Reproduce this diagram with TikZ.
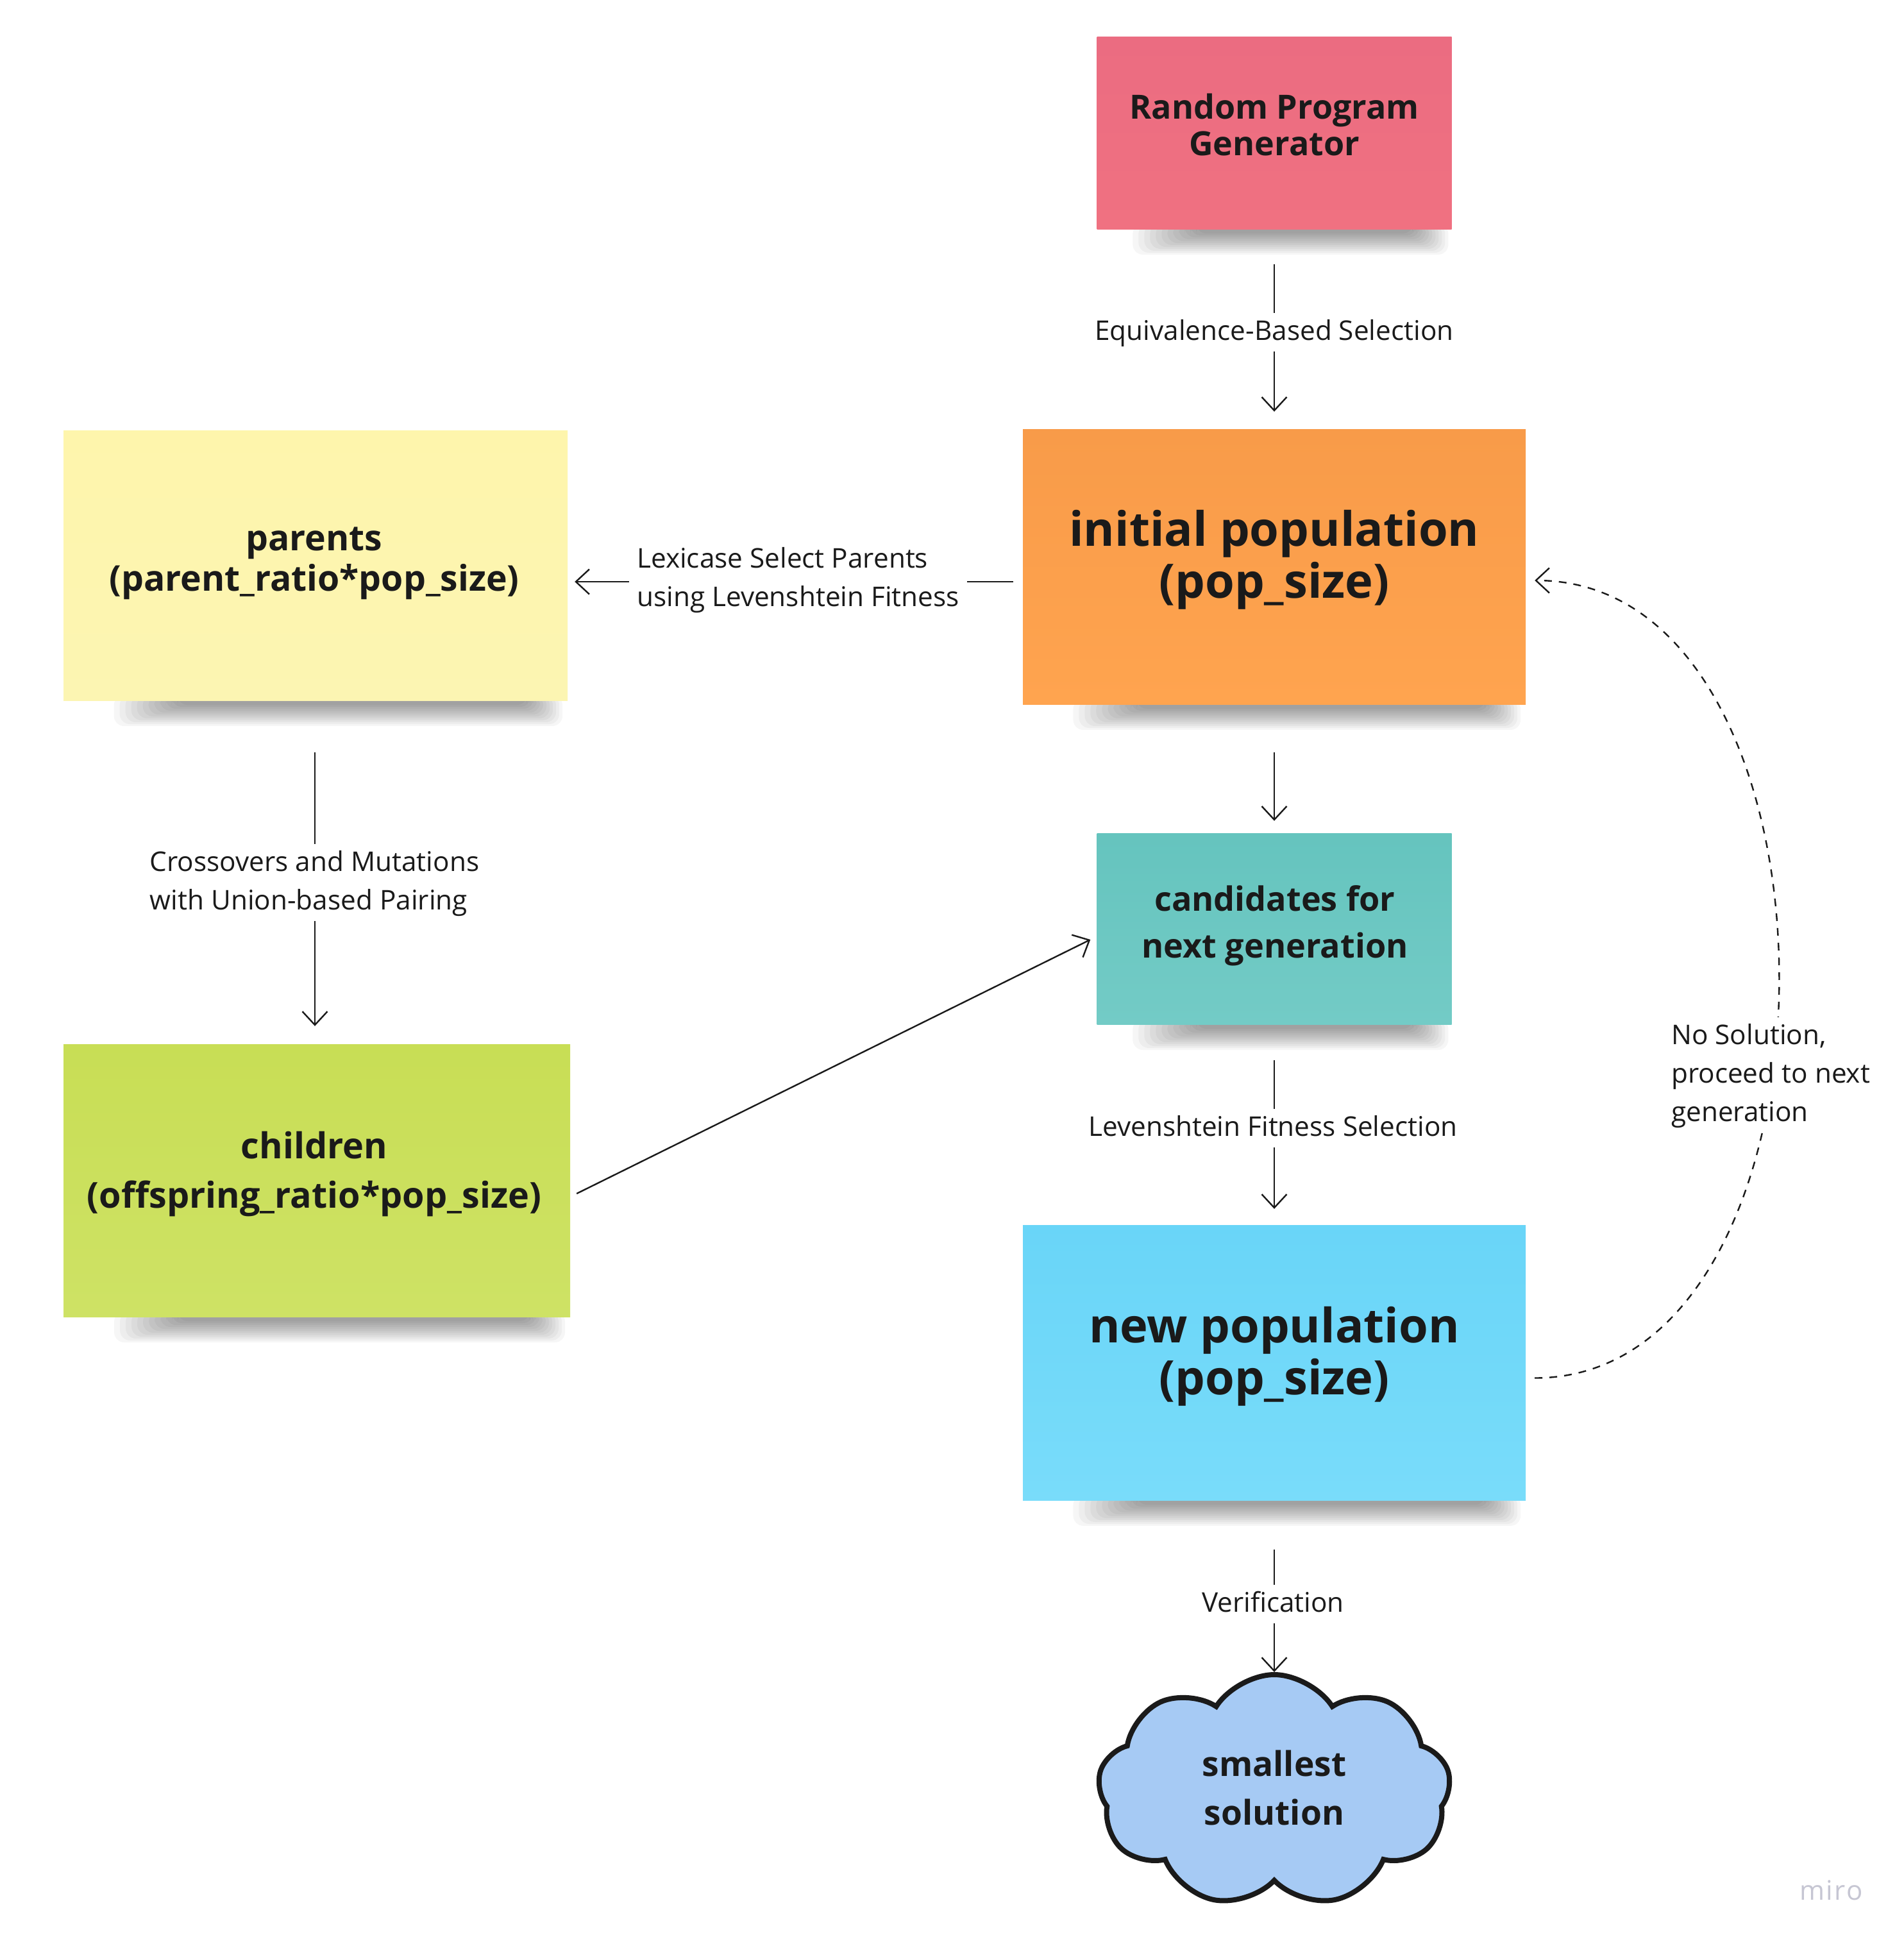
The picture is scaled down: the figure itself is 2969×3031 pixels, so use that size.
\documentclass[tikz,border=0pt]{standalone}
\usepackage{fontspec}
\setmainfont{Open Sans}
\newfontfamily\mirofont[LetterSpace=6]{Open Sans}
\usetikzlibrary{arrows.meta,shapes.symbols}
\definecolor{ink}{HTML}{1A1A1A}
\definecolor{pinkA}{HTML}{EB6C81}
\definecolor{pinkB}{HTML}{F07181}
\definecolor{orangeA}{HTML}{F89B49}
\definecolor{orangeB}{HTML}{FFA44F}
\definecolor{yellowA}{HTML}{FEF5AC}
\definecolor{yellowB}{HTML}{FCF5B2}
\definecolor{tealA}{HTML}{65C4BE}
\definecolor{tealB}{HTML}{73CBC6}
\definecolor{greenA}{HTML}{C8DE55}
\definecolor{greenB}{HTML}{CEE265}
\definecolor{blueA}{HTML}{69D5F8}
\definecolor{blueB}{HTML}{79DCFA}
\definecolor{cloudblue}{HTML}{A6CAF4}
\definecolor{mirogray}{HTML}{C6C6D3}
\newcommand\stickyshadow[3]{%
  \foreach \k in {0,...,11}{%
    \fill[black,opacity=0.035,rounded corners=16pt]
      ({#1+0.10*(#2-#1)+9*\k},{#3-8}) rectangle ({#2-0.01*(#2-#1)-5*\k},{#3+40-3*\k});
  }%
}
\tikzset{
  sticky/.style={rectangle,inner sep=0pt,draw=none},
  boxtxt/.style={align=center,text=ink,inner sep=0pt},
  lbl/.style={fill=white,text=ink,inner xsep=12pt,inner ysep=0pt,font=\fontsize{42.3}{60}\selectfont},
  arr/.style={draw=ink,line width=2.4pt,-{Straight Barb[length=21pt,width=39pt]}},
  dasharr/.style={arr,dash pattern=on 12pt off 11pt},
}
\begin{document}
\begin{tikzpicture}[x=1pt,y=-1pt]
\fill[white] (0,0) rectangle (2969,3031);
\useasboundingbox (0,0) rectangle (2969,3031);

% shadows
\stickyshadow{1711}{2264}{357}
\stickyshadow{1595}{2379}{1098}
\stickyshadow{99}{885}{1092}
\stickyshadow{1711}{2264}{1597}
\stickyshadow{99}{889}{2053}
\stickyshadow{1595}{2379}{2339}

% sticky notes
\node[sticky,minimum width=553pt,minimum height=300pt,top color=pinkA,bottom color=pinkB] (rpg) at (1987,207) {};
\node[sticky,minimum width=784pt,minimum height=429pt,top color=orangeA,bottom color=orangeB] (initpop) at (1987,883.5) {};
\node[sticky,minimum width=786pt,minimum height=421pt,top color=yellowA,bottom color=yellowB] (parents) at (492,881.5) {};
\node[sticky,minimum width=553pt,minimum height=298pt,top color=tealA,bottom color=tealB] (cand) at (1987,1448) {};
\node[sticky,minimum width=790pt,minimum height=425pt,top color=greenA,bottom color=greenB] (children) at (494,1840.5) {};
\node[sticky,minimum width=784pt,minimum height=429pt,top color=blueA,bottom color=blueB] (newpop) at (1987,2124.5) {};

% texts on notes
\node[boxtxt,font={\fontsize{52}{57}\selectfont\bfseries}] (rpgtext) at (1987,203) {\strut Random Program\\Generator\strut};
\node[boxtxt,font={\fontsize{74}{79}\selectfont\bfseries}] (initpoptext) at (1987,876) {\strut initial population\\(pop\_size)\strut};
\node[boxtxt,font={\fontsize{55.3}{63}\selectfont\bfseries}] (parentstext) at (490,877) {\strut parents\\(parent\_ratio*pop\_size)\strut};
\node[boxtxt,font={\fontsize{52.2}{73}\selectfont\bfseries}] (candtext) at (1988,1442) {\strut candidates for\\next generation\strut};
\node[boxtxt,font={\fontsize{55.7}{77}\selectfont\bfseries}] (childrentext) at (490,1830) {\strut children\\(offspring\_ratio*pop\_size)\strut};
\node[boxtxt,font={\fontsize{74}{80}\selectfont\bfseries}] (newpoptext) at (1987,2118) {\strut new population\\(pop\_size)\strut};

% cloud
\node[cloud,cloud puffs=9,cloud puff arc=115,cloud ignores aspect,minimum width=550pt,minimum height=362pt,
      fill=cloudblue,draw=ink,line width=8pt,align=center,inner sep=0pt,text=ink,
      font={\fontsize{53.3}{76}\selectfont\bfseries}] (cloud) at (1987,2792) {\strut smallest\\solution\strut};

% connectors
\draw[arr] ([yshift=-55pt]rpg.south) -- ([yshift=27pt]initpop.north);
\node[lbl] (l1) at (1987,518) {\strut Equivalence-Based Selection};

\draw[arr] ([xshift=-15pt,yshift=-23.5pt]initpop.west) -- ([xshift=11pt,yshift=-25.5pt]parents.east);
\node[lbl,align=left,anchor=west] (l2) at (981,903) {\strut Lexicase Select Parents\\using Levenshtein Fitness\strut};

\draw[arr] ([yshift=-75pt]initpop.south) -- ([yshift=19pt]cand.north);

\draw[arr] ([xshift=-1pt,yshift=-81pt]parents.south) -- ([xshift=-3pt,yshift=28pt]children.north);
\node[lbl,align=left] (l3) at (490.5,1376) {\strut Crossovers and Mutations\\with Union-based Pairing\strut};

\draw[arr] ([xshift=10pt,yshift=-20.5pt]children.east) -- ([xshift=-10pt,yshift=-17pt]cand.west);

\draw[arr] ([yshift=-56pt]cand.south) -- ([yshift=25pt]newpop.north);
\node[lbl] (l4) at (1985,1759) {\strut Levenshtein Fitness Selection};

\draw[arr] ([yshift=-77pt]newpop.south) -- (cloud.north);
\node[lbl] (l5) at (1985,2501) {\strut Verification};

\draw[dasharr] ([xshift=14pt,yshift=-24pt]newpop.east) .. controls (2901,2148) and (2901,905) .. ([xshift=14pt,yshift=-21.5pt]initpop.east);
\node[lbl,align=left,anchor=west] (l6) at (2594,1676) {\strut No Solution,\\proceed to next\\generation\strut};

% watermark
\node[anchor=base west,inner sep=0pt,text=mirogray,font={\fontsize{42}{50}\mirofont}] (miro) at (2806,2962) {miro};
\end{tikzpicture}
\end{document}
